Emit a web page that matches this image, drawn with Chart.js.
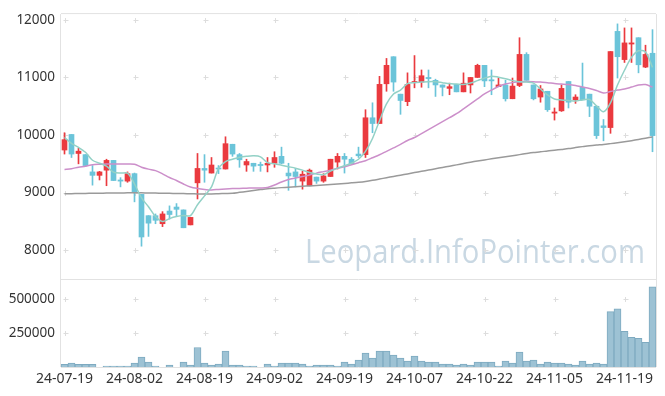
<!DOCTYPE html>
<html>
<head>
<meta charset="utf-8">
<script src="https://cdn.jsdelivr.net/npm/chart.js@4.4.1/dist/chart.umd.min.js"></script>
<style>
  html, body { margin: 0; padding: 0; background: #fff; }
</style>
</head>
<body>
<canvas id="stockChart" width="665" height="396"></canvas>
<script>
const dates = [
  "24-07-19", "24-07-22", "24-07-23", "24-07-24", "24-07-25", "24-07-26", "24-07-29", "24-07-30", "24-07-31", "24-08-01",
  "24-08-02", "24-08-05", "24-08-06", "24-08-07", "24-08-08", "24-08-09", "24-08-12", "24-08-13", "24-08-14", "24-08-16",
  "24-08-19", "24-08-20", "24-08-21", "24-08-22", "24-08-23", "24-08-26", "24-08-27", "24-08-28", "24-08-29", "24-08-30",
  "24-09-02", "24-09-03", "24-09-04", "24-09-05", "24-09-06", "24-09-09", "24-09-10", "24-09-11", "24-09-12", "24-09-13",
  "24-09-19", "24-09-20", "24-09-23", "24-09-24", "24-09-25", "24-09-26", "24-09-27", "24-09-30", "24-10-02", "24-10-04",
  "24-10-07", "24-10-08", "24-10-10", "24-10-11", "24-10-14", "24-10-15", "24-10-16", "24-10-17", "24-10-18", "24-10-21",
  "24-10-22", "24-10-23", "24-10-24", "24-10-25", "24-10-28", "24-10-29", "24-10-30", "24-10-31", "24-11-01", "24-11-04",
  "24-11-05", "24-11-06", "24-11-07", "24-11-08", "24-11-11", "24-11-12", "24-11-13", "24-11-14", "24-11-15", "24-11-18",
  "24-11-19", "24-11-20", "24-11-21", "24-11-22", "24-11-25"
];

const opens = [
  9740, 10010, 9680, 9660, 9360, 9300, 9390, 9560, 9220, 9200,
  9330, 8970, 8600, 8600, 8460, 8680, 8750, 8700, 8440, 9170,
  9420, 9340, 9420, 9410, 9840, 9660, 9480, 9510, 9490, 9480,
  9510, 9630, 9340, 9360, 9200, 9120, 9270, 9200, 9280, 9530,
  9630, 9580, 9670, 9660, 10300, 10200, 10890, 11360, 10710, 10580,
  10910, 10920, 11000, 10950, 10870, 10810, 10880, 10750, 10870, 11000,
  11210, 10960, 10840, 10870, 10630, 10860, 11400, 10870, 10660, 10760,
  10380, 10420, 10930, 10610, 10830, 10710, 10500, 10160, 10130, 11800,
  11310, 11580, 11690, 11180, 11420
];
const highs = [
  10040, 10010, 9770, 9660, 9470, 9370, 9580, 9560, 9260, 9360,
  9340, 8970, 8600, 8630, 8670, 8770, 8810, 8700, 8570, 9680,
  9660, 9610, 9470, 9970, 9840, 9680, 9580, 9510, 9530, 9610,
  9710, 9790, 9510, 9420, 9370, 9410, 9270, 9330, 9580, 9680,
  9680, 9610, 9790, 10440, 10560, 11020, 11330, 11360, 10710, 11080,
  11380, 11130, 11130, 10970, 10870, 10900, 10880, 11080, 11000, 11230,
  11210, 11130, 10990, 10950, 10990, 11690, 11430, 10870, 10860, 10760,
  10470, 10870, 10930, 10700, 11250, 10710, 10500, 10270, 11450, 11930,
  11860, 11860, 11690, 11560, 11830
];
const lows = [
  9670, 9610, 9500, 9460, 9130, 9220, 9120, 9210, 9100, 9180,
  8840, 8070, 8240, 8460, 8410, 8540, 8600, 8390, 8440, 8890,
  9180, 9340, 9330, 9410, 9630, 9440, 9370, 9370, 9370, 9360,
  9440, 9500, 9040, 9100, 9060, 9120, 9160, 9180, 9280, 9410,
  9340, 9500, 9610, 9610, 10040, 10200, 10760, 10760, 10360, 10510,
  10820, 10830, 10820, 10670, 10680, 10700, 10750, 10750, 10730, 11000,
  10840, 10700, 10840, 10590, 10630, 10840, 10950, 10610, 10570, 10410,
  10260, 10410, 10470, 10550, 10630, 10320, 9940, 9900, 10030, 10990,
  11260, 11260, 11080, 11170, 9710
];
const closes = [
  9920, 9670, 9720, 9470, 9300, 9360, 9560, 9210, 9200, 9330,
  9010, 8230, 8470, 8520, 8630, 8620, 8710, 8390, 8570, 9420,
  9390, 9480, 9410, 9850, 9670, 9570, 9540, 9460, 9470, 9510,
  9610, 9510, 9290, 9280, 9320, 9390, 9200, 9290, 9580, 9630,
  9580, 9500, 9640, 10300, 10200, 10880, 11210, 10920, 10600, 10880,
  10930, 11030, 10980, 10870, 10830, 10840, 10750, 10900, 11000, 11210,
  10940, 10940, 10870, 10630, 10850, 11400, 10950, 10630, 10800, 10440,
  10400, 10810, 10570, 10660, 10610, 10500, 9990, 10130, 11450, 11360,
  11600, 11600, 11220, 11400, 9990
];
const volumes = [
  19700, 29000, 19700, 19700, 19700, 0, 7000, 7000, 7000, 7000,
  29000, 72900, 36000, 7000, 0, 14600, 0, 36000, 14600, 143600,
  29000, 14600, 21900, 116600, 14600, 14600, 7000, 7000, 0, 21900,
  7000, 29000, 29000, 29000, 21900, 7000, 14600, 14600, 14600, 7000,
  36000, 21900, 51000, 102000, 65600, 116600, 116600, 87500, 65600, 43700,
  80200, 43700, 36000, 36000, 21900, 21900, 14600, 21900, 14600, 36000,
  36000, 36000, 7000, 43700, 29000, 109000, 43700, 51000, 21900, 36000,
  29000, 29000, 21900, 14600, 43700, 21900, 29000, 21900, 408000, 428000,
  262000, 219000, 211000, 182000, 590000
];

// moving averages (green / purple / grey)
const ma5 = [
  9957, 9854, 9786, 9700, 9562, 9511, 9459, 9356, 9339, 9339,
  9150, 8910, 8755, 8584, 8498, 8549, 8584, 8601, 8601, 8790,
  8944, 9099, 9420, 9540, 9580, 9614, 9631, 9640, 9622, 9520,
  9502, 9477, 9451, 9425, 9391, 9348, 9322, 9313, 9373, 9425,
  9468, 9511, 9580, 9717, 9940, 10249, 10541, 10713, 10781, 10893,
  10910, 10919, 10927, 10927, 10910, 10893, 10885, 10876, 10902, 10945,
  10988, 11022, 11005, 10979, 10945, 10927, 10919, 10902, 10799, 10696,
  10627, 10610, 10601, 10592, 10610, 10618, 10506, 10403, 10558, 10868,
  11125, 11348, 11463, 11442, 11176
];
const ma20 = [
  9403, 9416, 9442, 9459, 9485, 9494, 9499, 9499, 9499, 9499,
  9494, 9442, 9408, 9382, 9327, 9262, 9210, 9150, 9099, 9073,
  9056, 9047, 9056, 9064, 9070, 9073, 9077, 9082, 9082, 9090,
  9133, 9185, 9228, 9253, 9279, 9305, 9339, 9365, 9391, 9425,
  9451, 9485, 9520, 9554, 9605, 9657, 9717, 9777, 9837, 9906,
  9957, 10026, 10095, 10163, 10232, 10301, 10370, 10455, 10541, 10627,
  10713, 10781, 10842, 10885, 10910, 10927, 10931, 10927, 10919, 10910,
  10893, 10885, 10876, 10859, 10833, 10807, 10773, 10730, 10756, 10781,
  10799, 10833, 10868, 10876, 10833
];
const ma60 = [
  8979, 8982, 8985, 8987, 8989, 8990, 8992, 8993, 8995, 8996,
  8997, 8996, 8994, 8992, 8990, 8988, 8985, 8983, 8980, 8978,
  8977, 8978, 8982, 8986, 8990, 9005, 9020, 9037, 9053, 9068,
  9078, 9087, 9095, 9103, 9110, 9117, 9124, 9131, 9140, 9150,
  9160, 9170, 9181, 9195, 9214, 9236, 9259, 9281, 9303, 9325,
  9348, 9370, 9392, 9415, 9437, 9459, 9482, 9506, 9528, 9549,
  9568, 9587, 9606, 9623, 9641, 9660, 9679, 9696, 9708, 9724,
  9737, 9751, 9765, 9782, 9799, 9815, 9827, 9837, 9851, 9866,
  9883, 9902, 9923, 9945, 9966
];

const priceTicks = [8000, 9000, 10000, 11000, 12000];
const volumeTicks = [250000, 500000];

const upColor = "#ea3a3f";
const downColor = "#6bc4d9";
const candleColors = closes.map((c, i) => (c >= opens[i] ? upColor : downColor));

const yFont = { family: "'Noto Sans', sans-serif", size: 13.5 };
const xFont = { family: "'Noto Sans', sans-serif", size: 14 };

// frame lines, little "+" grid marks and the watermark
const panelDecor = {
  id: "panelDecor",
  beforeDatasetsDraw(chart) {
    const { ctx, chartArea, scales } = chart;
    const left = chartArea.left;
    const right = chartArea.right;
    ctx.save();

    // watermark
    ctx.fillStyle = "#c9d8e3";
    ctx.font = "32px 'Open Sans', sans-serif";
    ctx.textAlign = "right";
    ctx.textBaseline = "alphabetic";
    ctx.fillText("Leopard.InfoPointer.com", right - 11, scales.y.getPixelForValue(7770), 340);

    // frames
    ctx.strokeStyle = "#e2e2e2";
    ctx.lineWidth = 1;
    ctx.beginPath();
    ctx.moveTo(left - 0.5, scales.y.top);
    ctx.lineTo(left - 0.5, scales.yv.bottom);
    ctx.moveTo(right + 0.5, scales.y.top);
    ctx.lineTo(right + 0.5, scales.yv.bottom);
    ctx.moveTo(left, scales.y.top - 0.5);
    ctx.lineTo(right, scales.y.top - 0.5);
    ctx.moveTo(left, scales.y.bottom + 0.5);
    ctx.lineTo(right, scales.y.bottom + 0.5);
    ctx.moveTo(left, scales.yv.bottom + 0.5);
    ctx.lineTo(right, scales.yv.bottom + 0.5);
    ctx.stroke();

    // plus marks at grid crossings
    ctx.strokeStyle = "#dddddd";
    ctx.beginPath();
    const xs = [];
    dates.forEach((d, i) => {
      if (i % 10 === 0) xs.push(Math.round(scales.x.getPixelForValue(i)) + 0.5);
    });
    const ys = priceTicks.map((v) => scales.y.getPixelForValue(v))
      .concat(volumeTicks.map((v) => scales.yv.getPixelForValue(v)));
    xs.forEach((x) => {
      ys.forEach((yy) => {
        const y = Math.round(yy) + 0.5;
        ctx.moveTo(x - 2, y);
        ctx.lineTo(x + 3, y);
        ctx.moveTo(x, y - 2.5);
        ctx.lineTo(x, y + 2.5);
      });
    });
    ctx.stroke();
    ctx.restore();
  },
};

new Chart(document.getElementById("stockChart"), {
  type: "bar",
  data: {
    labels: dates,
    datasets: [
      {
        type: "line",
        label: "MA5",
        data: ma5,
        yAxisID: "y",
        borderColor: "#93d1c6",
        borderWidth: 1.5,
        pointRadius: 0,
        tension: 0.3,
        order: 0,
      },
      {
        type: "line",
        label: "MA20",
        data: ma20,
        yAxisID: "y",
        borderColor: "#cc8fca",
        borderWidth: 1.5,
        pointRadius: 0,
        tension: 0.3,
        order: 0,
      },
      {
        type: "line",
        label: "MA60",
        data: ma60,
        yAxisID: "y",
        borderColor: "#9a9a9a",
        borderWidth: 1.5,
        pointRadius: 0,
        tension: 0.3,
        order: 0,
      },
      {
        label: "body",
        data: closes.map((c, i) => [opens[i], c]),
        yAxisID: "y",
        backgroundColor: candleColors,
        barThickness: 5,
        minBarLength: 1,
        grouped: false,
        order: 1,
      },
      {
        label: "wick",
        data: highs.map((h, i) => [lows[i], h]),
        yAxisID: "y",
        backgroundColor: candleColors,
        barThickness: 1,
        grouped: false,
        order: 2,
      },
      {
        label: "volume",
        data: volumes,
        yAxisID: "yv",
        backgroundColor: "#9dc2d4",
        borderColor: "#7eaac0",
        borderWidth: { top: 1, left: 1, right: 1, bottom: 0 },
        categoryPercentage: 1,
        barPercentage: 1,
        grouped: false,
        order: 3,
      },
    ],
  },
  options: {
    responsive: false,
    animation: false,
    devicePixelRatio: 1,
    layout: { padding: { top: 10, right: 9, left: 0, bottom: 0 } },
    plugins: {
      legend: { display: false },
      tooltip: { enabled: false },
    },
    scales: {
      x: {
        offset: true,
        grid: { display: false, drawTicks: false },
        border: { display: false },
        ticks: {
          autoSkip: false,
          maxRotation: 0,
          padding: 4,
          color: "#333",
          font: xFont,
          callback: (v, i) => (i % 10 === 0 ? dates[i] : ""),
        },
        afterFit: (s) => { s.height = 29; },
      },
      yv: {
        position: "left",
        stack: "panes",
        stackWeight: 89,
        min: 0,
        max: 648000,
        grid: { display: false, drawTicks: false },
        border: { display: false },
        afterBuildTicks: (s) => { s.ticks = volumeTicks.map((v) => ({ value: v })); },
        ticks: { padding: 6, color: "#333", font: yFont, callback: (v) => String(v) },
        afterFit: (s) => { s.width = 61; },
      },
      y: {
        position: "left",
        stack: "panes",
        stackWeight: 268,
        min: 7500,
        max: 12100,
        grid: { display: false, drawTicks: false },
        border: { display: false },
        afterBuildTicks: (s) => { s.ticks = priceTicks.map((v) => ({ value: v })); },
        ticks: { padding: 6, color: "#333", font: yFont, callback: (v) => String(v) },
        afterFit: (s) => { s.width = 61; },
      },
    },
  },
  plugins: [panelDecor],
});
</script>
</body>
</html>
